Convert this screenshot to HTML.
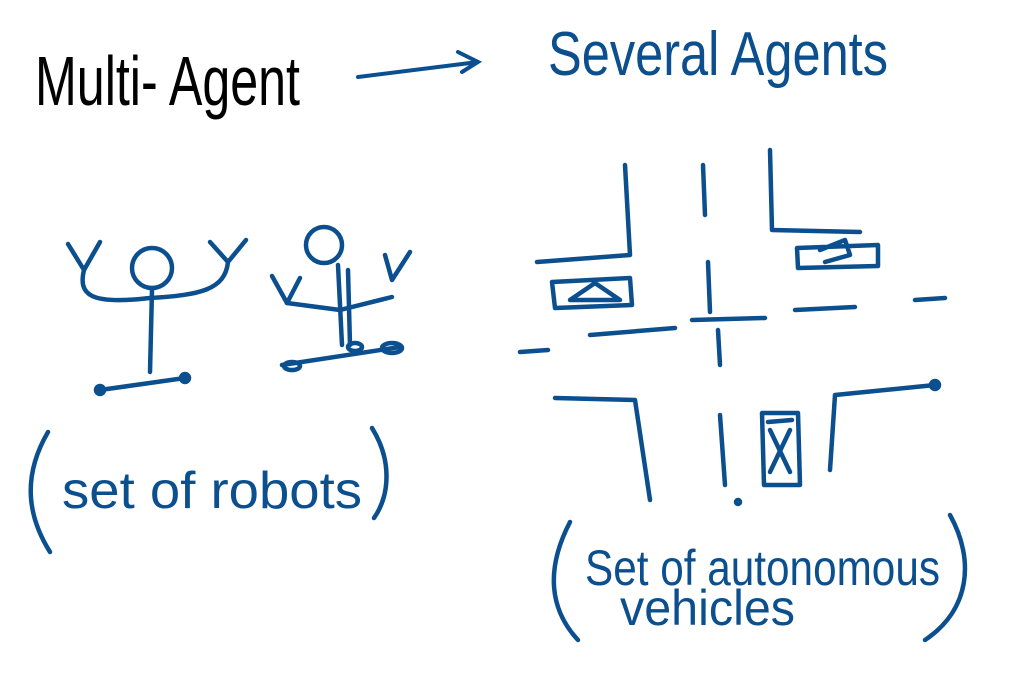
<!DOCTYPE html>
<html><head><meta charset="utf-8"><style>
html,body{margin:0;padding:0;background:#fff;width:1024px;height:679px;overflow:hidden}
svg{display:block}
.b{fill:none;stroke:#0c4f8e;stroke-width:4.5;stroke-linecap:round;stroke-linejoin:round}
.t{font-family:"Liberation Sans Narrow","Liberation Sans",sans-serif;fill:#0c4f8e}
</style></head><body>
<svg width="1024" height="679" viewBox="0 0 1024 679">
<text x="35" y="0" transform="translate(0,105) scale(1,1.2)" font-family="Liberation Sans Narrow, Liberation Sans, sans-serif" font-size="58" fill="#000" textLength="265" lengthAdjust="spacingAndGlyphs">Multi- Agent</text>
<path d="M358 77 L478 62 M458 52 L478 62 L462 72" fill="none" stroke="#0c4f8e" stroke-width="4" stroke-linecap="round"/>
<text class="t" x="548" y="0" transform="translate(0,75) scale(1,1.15)" font-size="54" textLength="340" lengthAdjust="spacingAndGlyphs">Several  Agents</text>
<!-- robot 1 -->
<g class="b">
<circle cx="152" cy="268" r="20"/>
<path d="M152 290 L150 372"/>
<path d="M100 390 L185 378"/>
<circle cx="100" cy="390" r="4"/><circle cx="185" cy="378" r="4"/>
<path d="M84 270 C78 295 90 305 150 298 C200 295 225 290 228 262"/>
<path d="M68 244 L84 270 L100 242"/>
<path d="M210 242 L228 262 L246 240"/>
</g>
<!-- robot 2 -->
<g class="b">
<circle cx="324" cy="245" r="18"/>
<path d="M338 265 L342 345 M348 270 L350 345"/>
<path d="M287 303 L340 310 L392 297"/>
<path d="M272 276 L287 303 L300 278"/>
<path d="M385 255 L392 280 L410 252"/>
<path d="M282 365 L400 347"/>
<ellipse cx="292" cy="366" rx="8" ry="4"/><ellipse cx="392" cy="348" rx="10" ry="5"/><ellipse cx="355" cy="347" rx="7" ry="4"/>
</g>
<text class="t" x="62" y="508" font-size="52" textLength="300" lengthAdjust="spacingAndGlyphs">set of  robots</text>
<path class="b" d="M48 432 C20 480 30 520 50 552"/>
<path class="b" d="M372 428 C392 460 390 495 374 518"/>
<!-- intersection -->
<g class="b">
<path d="M625 165 L630 255 L537 262"/>
<path d="M703 165 L705 215 M708 262 L710 312 M718 330 L720 365"/>
<path d="M770 150 L772 230 L860 232"/>
<path d="M590 335 L675 328 M692 320 L765 318 M795 310 L855 307 M915 300 L945 298 M520 352 L548 350"/>
<path d="M555 398 L635 400 L650 500"/>
<path d="M830 470 L835 395 L935 385"/>
<circle cx="935" cy="385" r="4"/>
<path d="M720 415 L725 485"/>
<circle cx="738" cy="502" r="2"/>
<path d="M552 282 L630 278 L632 305 L555 308 Z M570 300 L595 283 L620 300 Z"/>
<path d="M797 248 L878 245 L878 266 L798 268 Z M820 250 L845 240 L850 255 L825 262"/>
<path d="M762 413 L798 413 L800 485 L764 485 Z M768 422 L792 420 M770 430 L790 472 M790 430 L770 472"/>
</g>
<text class="t" x="585" y="585" font-size="50" textLength="355" lengthAdjust="spacingAndGlyphs">Set of autonomous</text>
<text class="t" x="620" y="625" font-size="50" textLength="175" lengthAdjust="spacingAndGlyphs">vehicles</text>
<path class="b" d="M570 522 C545 570 550 610 578 640"/>
<path class="b" d="M950 515 C975 560 970 610 925 640"/>
</svg>
</body></html>
